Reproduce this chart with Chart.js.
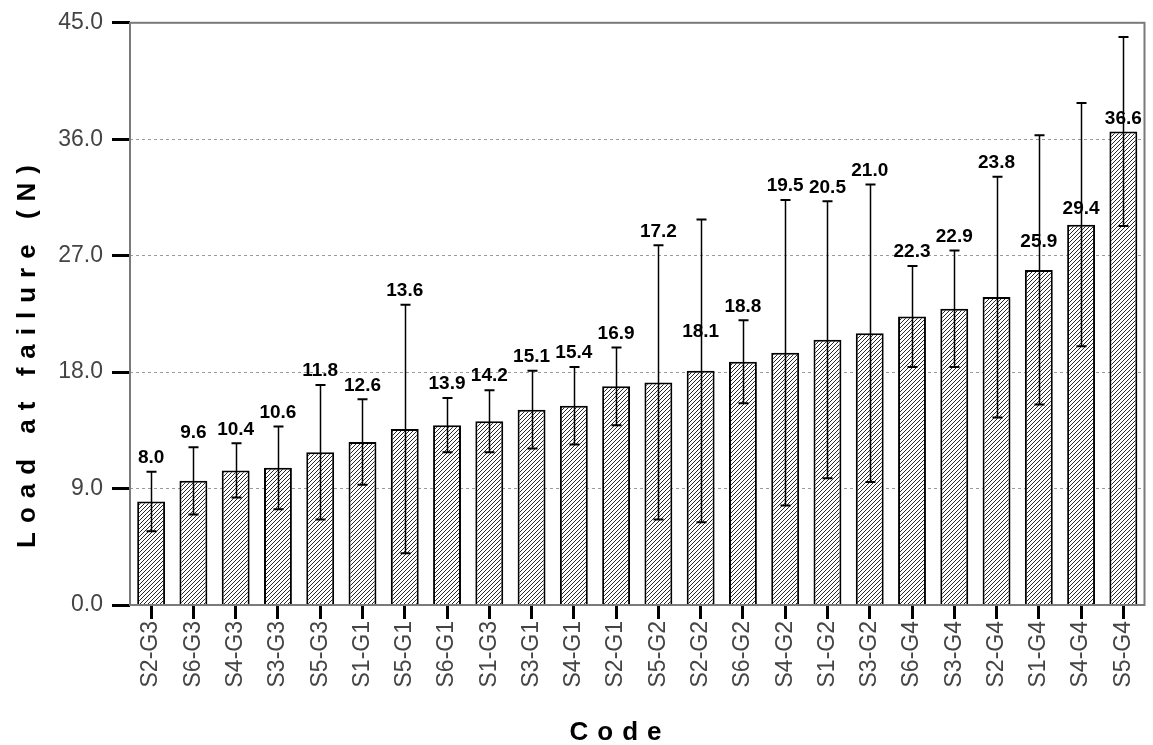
<!DOCTYPE html>
<html>
<head>
<meta charset="utf-8">
<title>Load at failure by code</title>
<script src="https://cdn.jsdelivr.net/npm/chart.js@4/dist/chart.umd.min.js"></script>
<style>
  html, body { margin: 0; padding: 0; background: #fff; }
  canvas { display: block; }
</style>
</head>
<body>
<canvas id="chart" width="1153" height="745"></canvas>
<script>
// Specimen codes, ordered by mean load
const codes = ['S2-G3', 'S6-G3', 'S4-G3', 'S3-G3', 'S5-G3', 'S1-G1', 'S5-G1', 'S6-G1',
               'S1-G3', 'S3-G1', 'S4-G1', 'S2-G1', 'S5-G2', 'S2-G2', 'S6-G2', 'S4-G2',
               'S1-G2', 'S3-G2', 'S6-G4', 'S3-G4', 'S2-G4', 'S1-G4', 'S4-G4', 'S5-G4'];

// Mean load at failure (N)
const meanLoad = [8.0, 9.6, 10.4, 10.6, 11.8, 12.6, 13.6, 13.9,
                  14.2, 15.1, 15.4, 16.9, 17.2, 18.1, 18.8, 19.5,
                  20.5, 21.0, 22.3, 22.9, 23.8, 25.9, 29.4, 36.6];

// Standard deviation (N), drawn as +/- whiskers
const sdLoad = [2.3, 2.6, 2.1, 3.2, 5.2, 3.3, 9.6, 2.1,
                2.4, 3.0, 3.0, 3.0, 10.6, 11.7, 3.2, 11.8,
                10.7, 11.5, 3.9, 4.5, 9.3, 10.4, 9.4, 7.3];

// Value axis ticks (N)
const yTicks = [0, 9, 18, 27, 36, 45];

// Value labels that sit inside their whisker rather than above it (axis units)
const innerLabelAt = { 'S2-G2': 21.1, 'S1-G4': 28.1, 'S4-G4': 30.6, 'S5-G4': 37.6 };

const FONT = '"Liberation Sans", Arial, Helvetica, sans-serif';

const canvas = document.getElementById('chart');
const ctx = canvas.getContext('2d');

// Fine "/" hatching used for the bar fill
function makeHatch() {
  const tile = document.createElement('canvas');
  tile.width = 4; tile.height = 4;
  const g = tile.getContext('2d');
  g.fillStyle = '#ffffff';
  g.fillRect(0, 0, 4, 4);
  g.strokeStyle = '#2a2a2a';
  g.lineWidth = 1.0;
  g.beginPath();
  g.moveTo(-1, 5); g.lineTo(5, -1);
  g.moveTo(-1, 1); g.lineTo(1, -1);
  g.moveTo(3, 5); g.lineTo(5, 3);
  g.stroke();
  return ctx.createPattern(tile, 'repeat');
}

// Gray frame around the plotting area
const frame = {
  id: 'frame',
  afterDatasetsDraw(chart) {
    const { ctx, chartArea: a } = chart;
    ctx.save();
    ctx.strokeStyle = '#7a7a7a';
    ctx.lineWidth = 2;
    ctx.strokeRect(a.left, a.top, a.right - a.left, a.bottom - a.top);
    ctx.restore();
  }
};

// SD whiskers and the mean value printed above each bar
const whiskers = {
  id: 'whiskers',
  afterDatasetsDraw(chart) {
    const { ctx, scales: { x, y } } = chart;
    ctx.save();
    ctx.strokeStyle = '#000';
    meanLoad.forEach((m, i) => {
      const px = Math.round(x.getPixelForValue(i)) + 0.5;
      const top = y.getPixelForValue(m + sdLoad[i]);
      const bot = y.getPixelForValue(m - sdLoad[i]);
      ctx.lineWidth = 1.5;
      ctx.beginPath();
      ctx.moveTo(px, top);
      ctx.lineTo(px, bot);
      ctx.stroke();
      ctx.lineWidth = 2;
      ctx.beginPath();
      ctx.moveTo(px - 5, top); ctx.lineTo(px + 5, top);
      ctx.moveTo(px - 5, bot); ctx.lineTo(px + 5, bot);
      ctx.stroke();
    });

    ctx.font = 'bold 19px ' + FONT;
    ctx.fillStyle = '#000';
    ctx.textAlign = 'center';
    ctx.textBaseline = 'middle';
    meanLoad.forEach((m, i) => {
      const px = x.getPixelForValue(i);
      const inner = innerLabelAt[codes[i]];
      const py = inner !== undefined
        ? y.getPixelForValue(inner)
        : y.getPixelForValue(m + sdLoad[i]) - 14;
      ctx.fillText(m.toFixed(1), px, py);
    });
    ctx.restore();
  }
};

// Letter-spaced axis titles
const axisTitles = {
  id: 'axisTitles',
  afterDraw(chart) {
    const { ctx } = chart;
    ctx.save();
    ctx.font = 'bold 26px ' + FONT;
    ctx.fillStyle = '#000';
    ctx.textAlign = 'center';
    ctx.textBaseline = 'middle';
    ctx.letterSpacing = '9px';
    ctx.fillText('Code', 620, 733);
    ctx.translate(28, 352);
    ctx.rotate(-Math.PI / 2);
    ctx.fillText('Load at failure (N)', 0, 0);
    ctx.restore();
  }
};

new Chart(ctx, {
  type: 'bar',
  data: {
    labels: codes,
    datasets: [{
      data: meanLoad,
      backgroundColor: makeHatch(),
      borderColor: '#000',
      borderWidth: 2,
      borderSkipped: 'bottom',
      categoryPercentage: 1.0,
      barPercentage: 0.66
    }]
  },
  options: {
    responsive: false,
    animation: false,
    devicePixelRatio: 1,
    layout: { padding: { top: 21, right: 2, left: 0, bottom: 0 } },
    plugins: {
      legend: { display: false },
      tooltip: { enabled: false },
      title: { display: false }
    },
    scales: {
      x: {
        grid: {
          offset: false,
          drawOnChartArea: false,
          tickLength: 14,
          tickWidth: 3,
          tickColor: '#000'
        },
        border: { display: false },
        ticks: {
          autoSkip: false,
          minRotation: 90,
          maxRotation: 90,
          padding: 2,
          color: '#444',
          font: { family: FONT, size: 23 }
        },
        afterFit(s) { s.height = 140; }
      },
      y: {
        min: 0,
        max: 45,
        afterBuildTicks(s) { s.ticks = yTicks.map(v => ({ value: v })); },
        grid: {
          color: c => (c.tick && (c.tick.value === 0 || c.tick.value === 45)) ? 'rgba(0,0,0,0)' : '#9a9a9a',
          lineWidth: 1,
          tickLength: 18,
          tickWidth: 3,
          tickColor: '#000'
        },
        border: { display: false, dash: [3, 3] },
        ticks: {
          padding: 9,
          color: '#444',
          font: { family: FONT, size: 23 },
          callback: v => Number(v).toFixed(1)
        },
        afterFit(s) { s.width = 130; }
      }
    }
  },
  plugins: [frame, whiskers, axisTitles]
});
</script>
</body>
</html>
